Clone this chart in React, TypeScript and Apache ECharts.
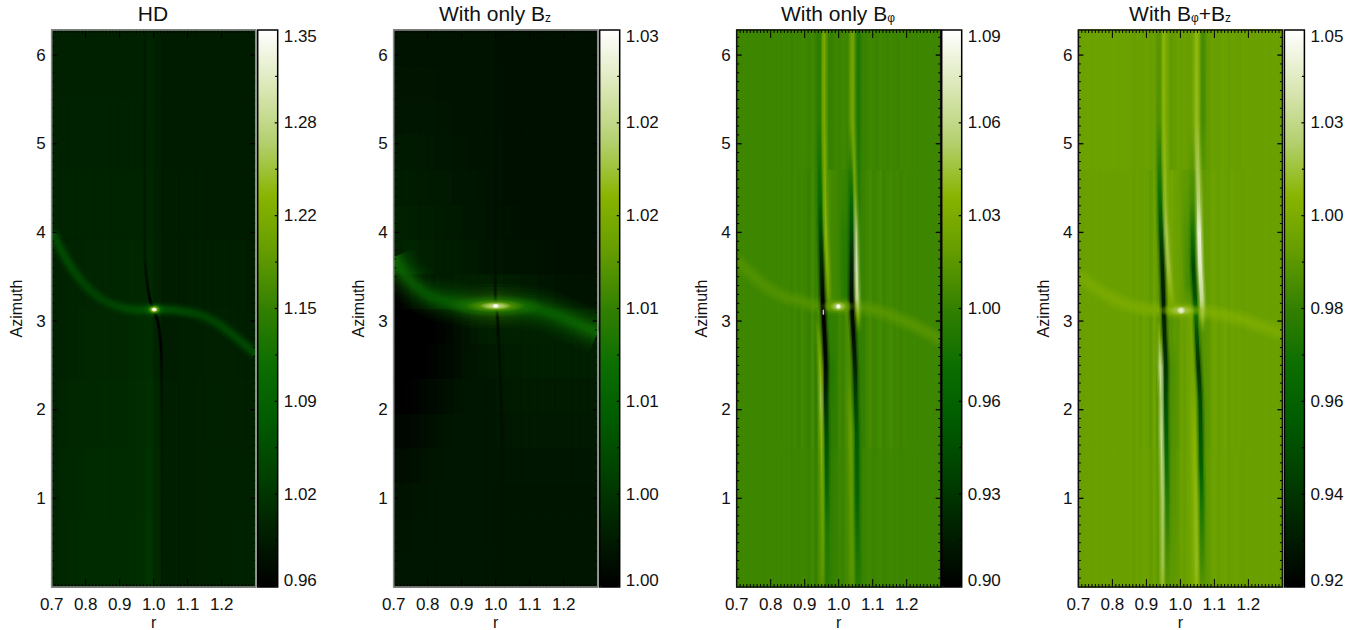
import React, { useEffect, useRef } from "react";
import * as echarts from "echarts";

const FONT = "Liberation Sans";
const colorStops = ["#000000", "#002000", "#004000", "#005c00", "#0c6e00", "#338000", "#649c00", "#88b400", "#b4d070", "#dce8b8", "#ffffff"];

const xTicks = [0.7, 0.8, 0.9, 1.0, 1.1, 1.2];
const yTicks = [1, 2, 3, 4, 5, 6];

const titles = [
  "HD",
  "With only B{sub|z}",
  "With only B{sub|φ}",
  "With B{sub|φ}+B{sub|z}",
];

const barLabels1 = ["0.96", "1.02", "1.09", "1.15", "1.22", "1.28", "1.35"];
const barLabels2 = ["1.00", "1.00", "1.01", "1.01", "1.02", "1.02", "1.03"];
const barLabels3 = ["0.90", "0.93", "0.96", "1.00", "1.03", "1.06", "1.09"];
const barLabels4 = ["0.92", "0.94", "0.96", "0.98", "1.00", "1.03", "1.05"];

const range1 = [0.96, 1.35];
const range2 = [1.0, 1.03];
const range3 = [0.9, 1.09];
const range4 = [0.92, 1.05];

// background fields: rows run upward in azimuth, columns outward in r
const field1 = [
  [1.006, 1.008, 1.01, 1.011, 1.012, 1.012, 1.012, 1.012, 1.013, 1.014, 1.016, 1.022, 1.01, 0.996, 0.996, 0.997, 0.998, 0.999, 1.0, 1.0, 1.0, 1.0, 1.001, 1.001],
  [1.004, 1.007, 1.009, 1.01, 1.011, 1.011, 1.011, 1.011, 1.012, 1.013, 1.015, 1.02, 1.008, 0.996, 0.996, 0.997, 0.998, 0.999, 1.0, 1.0, 1.0, 1.0, 1.0, 1.0],
  [1.002, 1.005, 1.007, 1.008, 1.009, 1.009, 1.01, 1.01, 1.01, 1.012, 1.014, 1.018, 1.006, 0.996, 0.996, 0.997, 0.998, 0.999, 0.999, 1.0, 1.0, 0.999, 0.999, 0.999],
  [1.0, 1.002, 1.004, 1.006, 1.008, 1.008, 1.008, 1.008, 1.008, 1.01, 1.012, 1.015, 1.004, 0.995, 0.995, 0.996, 0.997, 0.998, 0.999, 0.999, 1.0, 0.999, 0.998, 0.997],
  [1.001, 1.002, 1.003, 1.004, 1.005, 1.005, 1.005, 1.005, 1.006, 1.007, 1.008, 1.01, 1.002, 0.995, 0.995, 0.995, 0.996, 0.996, 0.996, 0.996, 0.996, 0.996, 0.996, 0.995],
  [1.003, 1.003, 1.003, 1.003, 1.003, 1.003, 1.003, 1.003, 1.003, 1.004, 1.004, 1.006, 1.0, 0.995, 0.995, 0.995, 0.995, 0.995, 0.994, 0.994, 0.994, 0.994, 0.994, 0.994],
  [1.002, 1.002, 1.002, 1.002, 1.002, 1.002, 1.001, 1.001, 1.001, 1.002, 1.002, 1.004, 0.998, 0.994, 0.994, 0.994, 0.994, 0.994, 0.994, 0.994, 0.994, 0.994, 0.994, 0.994],
  [1.0, 1.0, 1.0, 1.0, 1.0, 1.0, 1.0, 1.0, 1.0, 1.0, 1.001, 1.003, 0.997, 0.994, 0.994, 0.994, 0.994, 0.994, 0.994, 0.994, 0.994, 0.994, 0.994, 0.994],
];

const field2 = [
  [1.0021, 1.0021, 1.0021, 1.0021, 1.0021, 1.0021, 1.0021, 1.0021, 1.0021, 1.0021, 1.0021, 1.0021, 1.002, 1.002, 1.002, 1.002, 1.002, 1.002, 1.002, 1.002, 1.002, 1.002, 1.002, 1.002],
  [1.002, 1.002, 1.0021, 1.0021, 1.0021, 1.0021, 1.0021, 1.0021, 1.0021, 1.0021, 1.0021, 1.0021, 1.002, 1.002, 1.002, 1.002, 1.002, 1.002, 1.002, 1.002, 1.002, 1.002, 1.002, 1.002],
  [1.0017, 1.0018, 1.0019, 1.002, 1.0021, 1.0021, 1.0021, 1.0021, 1.0021, 1.0021, 1.0021, 1.0021, 1.002, 1.002, 1.002, 1.002, 1.002, 1.002, 1.002, 1.002, 1.002, 1.002, 1.002, 1.002],
  [1.0012, 1.0013, 1.0015, 1.0017, 1.0019, 1.002, 1.0021, 1.0021, 1.0021, 1.0021, 1.0021, 1.0021, 1.0021, 1.0021, 1.0021, 1.0021, 1.0021, 1.0021, 1.0021, 1.0021, 1.0021, 1.0021, 1.0021, 1.0021],
  [1.0006, 1.0007, 1.0009, 1.0012, 1.0015, 1.0018, 1.002, 1.0021, 1.0021, 1.0021, 1.0021, 1.0021, 1.0022, 1.0022, 1.0023, 1.0023, 1.0023, 1.0023, 1.0023, 1.0023, 1.0023, 1.0023, 1.0023, 1.0023],
  [1.0, 1.0001, 1.0003, 1.0006, 1.0009, 1.0012, 1.0015, 1.0018, 1.002, 1.0021, 1.0021, 1.0021, 1.0023, 1.0024, 1.0025, 1.0025, 1.0025, 1.0025, 1.0025, 1.0025, 1.0025, 1.0025, 1.0025, 1.0025],
  [1.0, 1.0, 1.0, 1.0, 1.0003, 1.0006, 1.0009, 1.0013, 1.0017, 1.002, 1.0022, 1.0024, 1.0026, 1.0027, 1.0027, 1.0028, 1.0028, 1.0028, 1.0028, 1.0028, 1.0028, 1.0028, 1.0028, 1.0028],
  [1.0, 1.0, 1.0, 1.0, 1.0, 1.0003, 1.0006, 1.0012, 1.0018, 1.0023, 1.0027, 1.003, 1.003, 1.003, 1.003, 1.003, 1.003, 1.003, 1.003, 1.003, 1.003, 1.003, 1.003, 1.003],
  [1.0003, 1.0006, 1.0009, 1.0012, 1.0018, 1.0024, 1.0027, 1.003, 1.003, 1.003, 1.003, 1.003, 1.003, 1.0027, 1.0027, 1.0024, 1.0024, 1.0021, 1.0021, 1.0018, 1.0018, 1.0018, 1.0018, 1.0018],
  [1.003, 1.0033, 1.0033, 1.003, 1.003, 1.0027, 1.0027, 1.0027, 1.0024, 1.0024, 1.0021, 1.0021, 1.0021, 1.0018, 1.0018, 1.0018, 1.0017, 1.0016, 1.0016, 1.0015, 1.0015, 1.0015, 1.0015, 1.0015],
  [1.003, 1.003, 1.0029, 1.0027, 1.0027, 1.0026, 1.0024, 1.0024, 1.0021, 1.0021, 1.0021, 1.0018, 1.0018, 1.0017, 1.0016, 1.0015, 1.0015, 1.0015, 1.0015, 1.0015, 1.0015, 1.0015, 1.0015, 1.0015],
  [1.0027, 1.0027, 1.0026, 1.0025, 1.0024, 1.0024, 1.0023, 1.0021, 1.0021, 1.0021, 1.002, 1.0018, 1.0017, 1.0015, 1.0015, 1.0015, 1.0015, 1.0015, 1.0015, 1.0015, 1.0015, 1.0015, 1.0015, 1.0015],
  [1.0024, 1.0024, 1.0024, 1.0023, 1.0022, 1.0021, 1.0021, 1.002, 1.0019, 1.0018, 1.0018, 1.0018, 1.0017, 1.0015, 1.0015, 1.0015, 1.0015, 1.0015, 1.0015, 1.0015, 1.0015, 1.0015, 1.0015, 1.0015],
  [1.0021, 1.0021, 1.0021, 1.0021, 1.0021, 1.002, 1.0019, 1.0018, 1.0018, 1.0018, 1.0018, 1.0018, 1.0016, 1.0015, 1.0015, 1.0015, 1.0015, 1.0015, 1.0015, 1.0015, 1.0015, 1.0015, 1.0015, 1.0015],
  [1.0019, 1.0019, 1.0019, 1.0019, 1.0019, 1.0018, 1.0018, 1.0018, 1.0018, 1.0018, 1.0018, 1.0018, 1.0016, 1.0015, 1.0015, 1.0015, 1.0015, 1.0015, 1.0015, 1.0015, 1.0015, 1.0015, 1.0015, 1.0015],
  [1.0018, 1.0018, 1.0018, 1.0018, 1.0018, 1.0018, 1.0018, 1.0018, 1.0018, 1.0018, 1.0018, 1.0018, 1.0015, 1.0015, 1.0015, 1.0015, 1.0015, 1.0015, 1.0015, 1.0015, 1.0015, 1.0015, 1.0015, 1.0015],
];

const field3 = [
  [0.999, 0.999, 0.999, 0.999, 0.999, 0.999, 0.999, 0.999, 0.999, 0.999, 0.999, 0.999, 0.999, 0.999, 0.999,
   0.999, 0.998, 0.999, 0.998, 1.0, 0.999, 0.997, 1.001, 0.996, 1.003,
   1.003, 0.994, 0.995, 0.995, 0.997, 0.999, 0.998, 1.002, 1.004, 1.004,
   0.995, 0.994, 0.997, 0.999, 1.0, 0.998, 0.999, 1.0, 0.998, 0.999,
   1.0, 0.999, 0.999, 0.998, 0.999, 0.999, 0.999, 0.999, 0.999, 0.999,
   0.999, 0.999, 0.999, 0.999, 0.999],
  [0.999, 0.999, 0.999, 0.999, 0.999, 0.999, 0.999, 0.999, 0.999, 0.999, 0.999, 0.999, 0.999, 0.999, 0.999,
   0.999, 0.998, 1.0, 0.997, 1.001, 0.998, 0.996, 1.002, 0.995, 1.004,
   1.004, 0.993, 0.992, 0.994, 0.995, 1.0, 0.998, 1.003, 1.006, 1.005,
   0.993, 0.994, 0.995, 1.0, 1.002, 0.998, 1.0, 1.002, 0.998, 1.0,
   1.002, 0.999, 1.0, 0.998, 1.0, 0.999, 0.999, 0.999, 0.999, 0.999,
   0.999, 0.999, 0.999, 0.999, 0.999],
  [0.999, 0.999, 0.999, 0.999, 0.999, 0.999, 0.999, 0.999, 0.999, 0.999, 0.999, 0.999, 0.999, 0.999, 0.999,
   0.999, 0.998, 1.0, 0.998, 1.0, 0.998, 0.996, 1.001, 0.997, 0.996,
   0.998, 1.002, 1.003, 1.001, 1.0, 0.998, 0.997, 0.995, 0.994, 0.996,
   1.001, 0.998, 0.997, 1.0, 1.002, 0.998, 1.0, 1.002, 0.998, 1.0,
   1.001, 0.999, 1.0, 0.998, 1.0, 0.999, 0.999, 0.999, 0.999, 0.999,
   0.999, 0.999, 0.999, 0.999, 0.999],
  [0.999, 0.999, 0.999, 0.999, 0.999, 0.999, 0.999, 0.999, 0.999, 0.999, 0.999, 0.999, 0.999, 0.999, 0.999,
   0.999, 0.998, 0.999, 0.999, 1.0, 0.999, 0.998, 1.0, 0.998, 0.996,
   0.998, 1.002, 0.996, 0.997, 0.999, 0.998, 1.0, 0.998, 1.0, 1.002,
   0.998, 0.996, 0.997, 0.998, 1.0, 0.999, 0.998, 1.0, 0.999, 0.998,
   1.0, 0.999, 0.998, 1.0, 0.999, 1.0, 0.999, 0.999, 0.999, 0.999,
   0.999, 0.999, 0.999, 0.999, 0.999],
];

const field4 = [
  [1.0, 1.0, 1.0, 1.0, 1.0, 1.0, 1.0, 1.0, 1.0, 1.0, 1.0, 1.0, 1.0, 1.0, 1.0,
   1.0, 0.999, 1.0, 0.999, 1.001, 1.0, 0.998, 1.001, 0.997, 1.002,
   1.003, 0.995, 0.996, 0.996, 0.998, 1.0, 0.999, 1.002, 1.004, 1.004,
   1.002, 0.995, 0.996, 0.997, 1.0, 1.001, 0.999, 1.0, 1.001, 0.999,
   1.0, 1.001, 1.0, 0.999, 1.0, 1.0, 1.0, 1.0, 1.0, 1.0,
   1.0, 1.0, 1.0, 1.0, 1.0],
  [1.0, 1.0, 1.0, 1.0, 1.0, 1.0, 1.0, 1.0, 1.0, 1.0, 1.0, 1.0, 1.0, 1.0, 1.0,
   1.0, 0.999, 1.001, 0.998, 1.001, 0.999, 0.997, 1.002, 0.996, 1.003,
   1.002, 0.994, 0.994, 0.996, 0.996, 1.0, 0.999, 1.002, 1.004, 1.005,
   1.002, 0.994, 0.995, 0.996, 1.0, 1.002, 0.999, 1.001, 1.002, 0.999,
   1.001, 1.0, 1.001, 0.999, 1.0, 1.0, 1.0, 1.0, 1.0, 1.0,
   1.0, 1.0, 1.0, 1.0, 1.0],
  [1.0, 1.0, 1.0, 1.0, 1.0, 1.0, 1.0, 1.0, 1.0, 1.0, 1.0, 1.0, 1.0, 1.0, 1.0,
   1.0, 0.999, 1.0, 0.999, 1.0, 0.999, 0.997, 1.001, 0.997, 0.996,
   0.998, 1.002, 1.003, 1.001, 1.0, 0.998, 0.997, 0.996, 0.995, 0.996,
   0.998, 1.001, 0.998, 0.998, 1.001, 1.0, 0.999, 1.001, 1.0, 0.999,
   1.001, 1.0, 1.0, 0.999, 1.0, 1.0, 1.0, 1.0, 1.0, 1.0,
   1.0, 1.0, 1.0, 1.0, 1.0],
  [1.001, 1.001, 1.001, 1.001, 1.001, 1.001, 1.001, 1.001, 1.001, 1.001, 1.001, 1.001, 1.001, 1.001, 1.001,
   1.0, 0.999, 1.0, 1.0, 1.0, 1.0, 0.999, 1.0, 0.998, 0.997,
   0.998, 1.002, 0.997, 0.998, 1.0, 0.999, 1.0, 0.999, 1.0, 1.001,
   0.999, 0.997, 0.997, 0.998, 1.0, 0.999, 0.999, 1.001, 1.0, 0.999,
   1.0, 1.0, 0.999, 1.0, 1.0, 1.0, 1.0, 1.0, 1.0, 1.0,
   1.0, 1.0, 1.0, 1.0, 1.0],
];

// wakes: [r, azimuth, value along the ridge]
const wake1 = [[0.7, 4.0, 1.06], [0.705, 3.97, 1.065], [0.744, 3.69, 1.06], [0.793, 3.43, 1.05], [0.842, 3.26, 1.045], [0.891, 3.17, 1.05], [0.94, 3.13, 1.06], [1.004, 3.13, 1.075], [1.068, 3.12, 1.06], [1.136, 3.07, 1.05], [1.185, 2.98, 1.05], [1.234, 2.84, 1.055], [1.3, 2.63, 1.06]];
const wake2 = [[0.7, 3.72, 1.0125], [0.704, 3.69, 1.0125], [0.738, 3.5, 1.0115], [0.787, 3.33, 1.0105], [0.836, 3.24, 1.0105], [0.885, 3.2, 1.0115], [0.933, 3.17, 1.0135], [1.003, 3.17, 1.016], [1.08, 3.16, 1.0125], [1.13, 3.13, 1.0115], [1.179, 3.07, 1.0115], [1.227, 2.99, 1.012], [1.3, 2.87, 1.0125]];
const wake3 = [[0.7, 3.68, 1.009], [0.745, 3.52, 1.009], [0.792, 3.37, 1.009], [0.842, 3.27, 1.009], [0.892, 3.22, 1.01], [0.939, 3.17, 1.011], [0.998, 3.16, 1.012], [1.069, 3.15, 1.012], [1.136, 3.09, 1.012], [1.186, 3.01, 1.012], [1.233, 2.93, 1.012], [1.3, 2.79, 1.011]];
const wake4 = [[0.7, 3.53, 1.006], [0.71, 3.49, 1.007], [0.758, 3.35, 1.007], [0.808, 3.24, 1.008], [0.857, 3.17, 1.008], [0.916, 3.13, 1.009], [1.004, 3.12, 1.01], [1.082, 3.1, 1.01], [1.151, 3.05, 1.009], [1.21, 2.98, 1.009], [1.3, 2.86, 1.008]];

// dark and bright filaments: [r, azimuth, value]
const dark1a = [[0.974, 6.283, 0.994], [0.974, 3.75, 0.99], [0.979, 3.49, 0.975], [0.989, 3.24, 0.96], [1.0, 3.13, 0.96], [1.013, 2.98, 0.96], [1.021, 2.71, 0.96], [1.023, 2.45, 0.975], [1.024, 1.88, 0.99], [1.025, 0, 0.995]];
const dark2a = [[0.999, 6.283, 1.0015], [0.999, 3.43, 1.001], [1.0, 3.2, 1.0006], [1.005, 3.05, 1.0], [1.008, 2.83, 1.0003], [1.013, 2.45, 1.0006], [1.019, 1.55, 1.0014], [1.021, 0, 1.0017]];

const dark3a = [[0.942, 6.283, 0.992], [0.942, 5.27, 0.99], [0.945, 4.37, 0.97], [0.947, 4.0, 0.945], [0.95, 3.61, 0.92], [0.953, 3.24, 0.9], [0.958, 2.87, 0.9], [0.962, 2.48, 0.905], [0.962, 2.11, 0.925], [0.964, 1.74, 0.945], [0.965, 1.17, 0.965], [0.966, 0.61, 0.985], [0.966, 0, 0.99]];
const bright3a = [[0.955, 6.283, 1.025], [0.955, 5.27, 1.025], [0.958, 4.37, 1.03], [0.96, 4.0, 1.035], [0.965, 3.61, 1.03], [0.969, 3.27, 1.015], [0.975, 3.12, 1.0]];
const bright3b = [[0.93, 3.12, 0.999], [0.941, 2.87, 1.01], [0.948, 2.48, 1.03], [0.951, 2.11, 1.045], [0.952, 1.74, 1.035], [0.955, 0.98, 1.025], [0.955, 0.23, 1.015], [0.955, 0, 1.01]];
const dark3b = [[1.034, 5.27, 0.995], [1.037, 4.37, 0.97], [1.038, 4.0, 0.945], [1.038, 3.61, 0.92], [1.038, 3.24, 0.905], [1.043, 2.87, 0.905], [1.048, 2.48, 0.92], [1.05, 2.11, 0.94], [1.053, 1.74, 0.955], [1.054, 0.98, 0.965], [1.056, 0.23, 0.985], [1.056, 0, 0.99]];
const dark3c = [[1.057, 6.283, 0.985], [1.057, 5.27, 0.985], [1.058, 4.37, 0.99], [1.058, 3.91, 0.995]];
const bright3c = [[1.04, 6.283, 1.02], [1.04, 5.27, 1.02], [1.044, 4.48, 1.035], [1.048, 4.0, 1.06], [1.05, 3.61, 1.07], [1.053, 3.27, 1.06], [1.056, 3.05, 1.025], [1.058, 2.85, 1.005]];
const bright3d = [[1.03, 2.79, 0.999], [1.033, 2.11, 1.01], [1.036, 1.74, 1.015], [1.04, 0.23, 1.01], [1.04, 0, 1.008]];
const shade3a = [[1.02, 4.7, 0.999], [1.022, 4.0, 0.985], [1.026, 3.3, 0.98], [1.03, 3.1, 0.999]];
const shade3b = [[0.975, 3.05, 0.999], [0.975, 2.5, 0.985], [0.975, 1.8, 0.99], [0.977, 1.0, 0.995], [0.977, 0, 0.996]];

const dark4a = [[0.937, 6.283, 0.995], [0.937, 5.27, 0.993], [0.94, 4.37, 0.97], [0.943, 4.0, 0.95], [0.947, 3.61, 0.935], [0.95, 3.24, 0.93], [0.953, 2.87, 0.935], [0.957, 2.48, 0.94], [0.957, 2.11, 0.95], [0.959, 1.55, 0.965], [0.961, 0.98, 0.98], [0.961, 0.42, 0.99], [0.961, 0, 0.995]];
const bright4a = [[0.95, 6.283, 1.012], [0.95, 5.27, 1.012], [0.953, 4.37, 1.015], [0.957, 4.0, 1.02], [0.964, 3.61, 1.018], [0.974, 3.24, 1.008], [0.981, 3.04, 1.0]];
const bright4b = [[0.931, 3.04, 1.0], [0.94, 2.87, 1.006], [0.943, 2.48, 1.03], [0.947, 2.11, 1.03], [0.947, 1.74, 1.032], [0.95, 0.98, 1.025], [0.95, 0.23, 1.02], [0.95, 0, 1.015]];
const dark4b = [[1.033, 5.27, 0.998], [1.035, 4.37, 0.99], [1.036, 4.0, 0.975], [1.038, 3.61, 0.95], [1.043, 3.27, 0.955], [1.045, 3.12, 0.975], [1.048, 2.87, 0.955], [1.053, 2.48, 0.94], [1.058, 2.11, 0.95], [1.061, 1.35, 0.96], [1.063, 0.98, 0.975], [1.064, 0.23, 0.99], [1.064, 0, 0.995]];
const dark4c = [[1.066, 6.283, 0.99], [1.066, 5.27, 0.99], [1.067, 4.37, 0.995]];
const bright4c = [[1.048, 6.283, 1.012], [1.048, 5.27, 1.014], [1.053, 4.37, 1.025], [1.055, 4.0, 1.042], [1.058, 3.61, 1.04], [1.063, 3.24, 1.03], [1.064, 3.05, 1.015], [1.065, 2.85, 1.0]];
const bright4d = [[1.031, 2.67, 1.0], [1.041, 1.74, 1.01], [1.048, 0.23, 1.014], [1.048, 0, 1.012]];
const shade4a = [[1.02, 4.8, 1.0], [1.025, 4.0, 0.99], [1.03, 3.4, 0.985], [1.035, 3.1, 1.0]];
const shade4b = [[0.973, 3.0, 1.0], [0.973, 2.5, 0.99], [0.975, 1.5, 0.992], [0.977, 0, 0.997]];

// planet glow: [r, azimuth]
const planet1 = [1.0015, 3.13];
const planet2 = [1.0, 3.17];
const planet3 = [0.999, 3.165];
const planet4 = [1.002, 3.12];
const sliver3 = [0.955, 3.1];

type Pt = number[];

const streak = [[9, 0.2], [6, 0.4], [3.5, 0.95]];
const shadeStyle = [[14, 0.25], [9, 0.35]];
const softWake = [[18, 0.12], [15, 0.15], [12, 0.18], [9, 0.2], [6, 0.22], [3, 0.25]];

const panels = [
  { left: 51.7, bar: 257.7, title: 153, title0: titles[0], labels: barLabels1, range: range1, field: field1, frame: "#8c8c8c",
    wake: wake1, wakeStyle: [[16, 0.1], [13, 0.14], [10, 0.2], [8, 0.25], [6, 0.3], [4, 0.4]], shades: [] as Pt[][], streaks: [dark1a], streakStyle: [[4, 0.3], [2.4, 0.7], [1.4, 0.9]],
    planet: planet1, glow: [[22, 14, 1.11, 0.8], [13, 9, 1.22, 1], [7, 5, 1.35, 1]], extra: [] as Pt[] },
  { left: 393.7, bar: 599.7, title: 495, title0: titles[1], labels: barLabels2, range: range2, field: field2, frame: "#8c8c8c",
    wake: wake2, wakeStyle: [[44, 0.06], [38, 0.07], [32, 0.08], [27, 0.1], [22, 0.12], [18, 0.15], [14, 0.2], [10, 0.25], [6, 0.3]], shades: [] as Pt[][], streaks: [dark2a], streakStyle: [[4, 0.25], [2, 0.6]],
    planet: planet2, glow: [[100, 22, 1.013, 0.8], [60, 13, 1.018, 0.9], [32, 8, 1.024, 1], [8, 5, 1.03, 1]], extra: [] as Pt[] },
  { left: 736.7, bar: 941.7, title: 838, title0: titles[2], labels: barLabels3, range: range3, field: field3, frame: "#111111",
    wake: wake3, wakeStyle: softWake, shades: [shade3a, shade3b], streaks: [dark3c, bright3d, bright3b, bright3a, bright3c, dark3a, dark3b], streakStyle: streak,
    planet: planet3, glow: [[36, 14, 1.025, 0.7], [16, 10, 1.05, 0.9], [6, 6, 1.09, 1]], extra: [sliver3] },
  { left: 1078.4, bar: 1284.4, title: 1180, title0: titles[3], labels: barLabels4, range: range4, field: field4, frame: "#111111",
    wake: wake4, wakeStyle: softWake, shades: [shade4a, shade4b], streaks: [dark4c, bright4d, bright4b, bright4a, bright4c, dark4a, dark4b], streakStyle: streak,
    planet: planet4, glow: [[50, 14, 1.01, 0.8], [26, 10, 1.02, 0.9], [9, 8, 1.04, 1]], extra: [] as Pt[] },
];

const TOP = 30;
const HEIGHT = 557;
const WIDTH = 204;
const BAR_W = 20;
const AZ_MAX = 6.283;

function mapColor(v: number, range: number[]) {
  const f = Math.min(1, Math.max(0, (v - range[0]) / (range[1] - range[0])));
  return echarts.color.lerp(f, colorStops) as string;
}

function tickLine(x1: number, y1: number, x2: number, y2: number, w: number) {
  return { type: "line", shape: { x1, y1, x2, y2 }, style: { stroke: "#000", lineWidth: w, fill: "none" } };
}

function buildOption() {
  const grid: any[] = [];
  const xAxis: any[] = [];
  const yAxis: any[] = [];
  const series: any[] = [];
  const visualMap: any[] = [];
  const title: any[] = [];

  const yAll: number[] = [];
  for (let i = 1; i < 63; i++) yAll.push(i / 10);
  const xAll: number[] = [];
  for (let i = 71; i < 130; i++) xAll.push(i / 100);

  panels.forEach((p) => {
    const gridIndex = grid.length;
    grid.push({
      left: p.left, top: TOP, width: WIDTH, height: HEIGHT, show: true, z: 12, outerBoundsMode: "none",
      backgroundColor: "transparent", borderColor: p.frame, borderWidth: 1.5, containLabel: false,
    });

    const cols = p.field[0].map((_, i) => String(i));
    const rows = p.field.map((_, i) => String(i));
    const xCat = xAxis.length;
    xAxis.push({ type: "category", gridIndex, data: cols, show: false });
    const xVal = xAxis.length;
    xAxis.push({
      type: "value", gridIndex, min: 0.7, max: 1.3, interval: 0.1, z: 11, position: "bottom",
      axisLine: { show: false, onZero: false }, splitLine: { show: false }, axisTick: { show: false }, minorTick: { show: false },
      name: "r", nameLocation: "middle", nameGap: 27, nameMoveOverlap: false,
      nameTextStyle: { fontFamily: FONT, fontSize: 16, color: "#111" },
      axisLabel: { show: true, customValues: xTicks, margin: 9, fontFamily: FONT, fontSize: 17, color: "#111", formatter: (v: number) => v.toFixed(1) },
    });

    const yCat = yAxis.length;
    yAxis.push({ type: "category", gridIndex, data: rows, show: false });
    const yVal = yAxis.length;
    yAxis.push({
      type: "value", gridIndex, min: 0, max: AZ_MAX, z: 11, interval: 1, position: "left",
      axisLine: { show: false, onZero: false }, splitLine: { show: false }, axisTick: { show: false }, minorTick: { show: false },
      name: "Azimuth", nameLocation: "middle", nameGap: 27, nameMoveOverlap: false,
      nameTextStyle: { fontFamily: FONT, fontSize: 16, color: "#111" },
      axisLabel: { show: true, customValues: yTicks, margin: 6, fontFamily: FONT, fontSize: 17, color: "#111", formatter: (v: number) => String(v) },
    });

    // background field
    const heatIndex = series.length;
    const heatData: any[] = [];
    p.field.forEach((row, j) =>
      row.forEach((v, i) =>
        heatData.push({ value: [i, j, v], itemStyle: { borderColor: mapColor(v, p.range), borderWidth: 0.8 } })
      )
    );
    series.push({
      type: "heatmap", xAxisIndex: xCat, yAxisIndex: yCat, data: heatData, silent: true, z: -5,
      emphasis: { disabled: true }, progressive: 0, clip: true,
    });

    // a ridge drawn through the axes, clipped exactly to the plot area
    const lineSeries = (data: Pt[], horizontal: boolean, widths: number[][], z: number) => {
      const a = horizontal ? 0 : 1;
      const vals = data.map((d) => d[a]);
      const lo = Math.min(...vals);
      const hi = Math.max(...vals);
      const stops = data.map((d, k) => {
        const base = mapColor(d[2], p.range);
        const openEnd = !horizontal && (k === 0 || k === data.length - 1) && d[1] > 0 && d[1] < AZ_MAX;
        return {
          offset: horizontal ? (d[0] - lo) / (hi - lo) : (hi - d[1]) / (hi - lo),
          color: openEnd ? (echarts.color.modifyAlpha(base, 0) as string) : base,
        };
      });
      stops.sort((s, t) => s.offset - t.offset);
      const grad = horizontal
        ? new echarts.graphic.LinearGradient(0, 0, 1, 0, stops)
        : new echarts.graphic.LinearGradient(0, 0, 0, 1, stops);
      series.push({
        type: "custom", xAxisIndex: xVal, yAxisIndex: yVal, coordinateSystem: "cartesian2d",
        data: data.map((d) => [d[0], d[1]]), encode: { x: 0, y: 1 }, silent: true, z, clip: true,
        renderItem: (params: any, api: any) => {
          if (params.dataIndex !== 0) return null;
          const points = data.map((d) => api.coord([d[0], d[1]]));
          return {
            type: "group",
            children: widths.map(([w, o]) => ({
              type: "polyline",
              shape: { points, smooth: 0.3 },
              style: { stroke: grad, lineWidth: w, opacity: o, fill: "none" },
            })),
          };
        },
      });
    };

    p.shades.forEach((s) => lineSeries(s, false, shadeStyle, -4));
    lineSeries(p.wake, true, p.wakeStyle, -4);
    p.streaks.forEach((s) => lineSeries(s, false, p.streakStyle, -3));

    // planet glow
    p.glow.forEach(([w, h, v, o]) => {
      const c = mapColor(v, p.range);
      const t = echarts.color.modifyAlpha(c, 0) as string;
      series.push({
        type: "scatter", xAxisIndex: xVal, yAxisIndex: yVal, data: [p.planet], symbol: "circle", symbolSize: [w, h],
        silent: true, z: -2, itemStyle: { opacity: o, color: new echarts.graphic.RadialGradient(0.5, 0.5, 0.5, [
          { offset: 0, color: c }, { offset: 0.35, color: c }, { offset: 1, color: t },
        ]) },
      });
    });
    p.extra.forEach((e) => {
      series.push({
        type: "scatter", xAxisIndex: xVal, yAxisIndex: yVal, data: [e], symbol: "rect", symbolSize: [1.5, 5],
        silent: true, z: -1, itemStyle: { color: "#ffffff" },
      });
    });

    // ticks on all four sides, pointing inward
    series.push({
      type: "custom", xAxisIndex: xVal, yAxisIndex: yVal, coordinateSystem: "cartesian2d",
      data: [[0.7, 0]], encode: { x: 0, y: 1 }, silent: true, z: 10, clip: false,
      renderItem: (_: any, api: any) => {
        const children: any[] = [];
        xAll.forEach((x) => {
          const isMajor = Math.round(x * 100) % 10 === 0;
          const len = isMajor ? 8 : 3;
          const bottom = api.coord([x, 0]);
          const top = api.coord([x, AZ_MAX]);
          children.push(tickLine(bottom[0], bottom[1], bottom[0], bottom[1] - len, 1));
          children.push(tickLine(top[0], top[1], top[0], top[1] + len, 1));
        });
        yAll.forEach((y) => {
          const isMajor = Math.round(y * 10) % 10 === 0;
          const len = isMajor ? 5 : 2.5;
          const l = api.coord([0.7, y]);
          const r = api.coord([1.3, y]);
          children.push(tickLine(l[0], l[1], l[0] + len, l[1], isMajor ? 1.3 : 1));
          children.push(tickLine(r[0], r[1], r[0] - len, r[1], isMajor ? 1.3 : 1));
        });
        return { type: "group", children };
      },
    });

    visualMap.push({
      type: "continuous", seriesIndex: heatIndex, min: p.range[0], max: p.range[1], calculable: false,
      left: p.bar, top: TOP, itemWidth: BAR_W, itemHeight: HEIGHT, padding: 0, hoverLink: false, text: ["", ""],
      inRange: { color: colorStops }, z: 4,
    });

    // colour bar axes
    const barGrid = grid.length;
    grid.push({
      left: p.bar, top: TOP, width: BAR_W, height: HEIGHT, show: true, z: 12, outerBoundsMode: "none",
      backgroundColor: "transparent", borderColor: "#000", borderWidth: 1.5,
    });
    const barX = xAxis.length;
    xAxis.push({ type: "value", gridIndex: barGrid, min: 0, max: 1, show: false });
    const barY = yAxis.length;
    yAxis.push({
      type: "value", gridIndex: barGrid, position: "right", min: 0, max: 6, interval: 1, z: 11,
      axisLine: { show: false, onZero: false }, splitLine: { show: false }, axisTick: { show: false }, minorTick: { show: false },
      axisLabel: {
        show: true, margin: 6, fontFamily: FONT, fontSize: 17, color: "#111",
        customValues: [0.065, 1, 2, 3, 4, 5, 5.935],
        formatter: (v: number) => p.labels[Math.round(v)],
      },
    });
    series.push({
      type: "custom", xAxisIndex: barX, yAxisIndex: barY, coordinateSystem: "cartesian2d",
      data: [[1, 0]], encode: { x: 0, y: 1 }, silent: true, z: 10, clip: false,
      renderItem: (_: any, api: any) => {
        const children: any[] = [];
        for (let k = 1; k < 12; k++) {
          const pos = api.coord([1, k / 2]);
          const isMajor = k % 2 === 0;
          children.push(tickLine(pos[0], pos[1], pos[0] - (isMajor ? 3 : 2.5), pos[1], 1.2));
        }
        return { type: "group", children };
      },
    });

    title.push({
      text: p.title0, left: p.title, top: 3, textAlign: "center", padding: 0,
      textStyle: {
        fontFamily: FONT, fontSize: 21, fontWeight: "normal", color: "#111",
        rich: { sub: { fontFamily: FONT, fontSize: 12, fontWeight: "normal", color: "#111", padding: [9, 0, 0, 0] } },
      },
    });
  });

  return {
    animation: false, backgroundColor: "#ffffff", textStyle: { fontFamily: FONT },
    title, grid, xAxis, yAxis, series, visualMap,
  };
}

export default function App() {
  const ref = useRef<HTMLDivElement>(null);
  useEffect(() => {
    const chart = echarts.init(ref.current!, undefined, { renderer: "svg" });
    chart.setOption(buildOption() as any);
    return () => chart.dispose();
  }, []);
  return <div ref={ref} style={{ position: "fixed", left: 0, top: 0, width: 1359, height: 630 }} />;
}
